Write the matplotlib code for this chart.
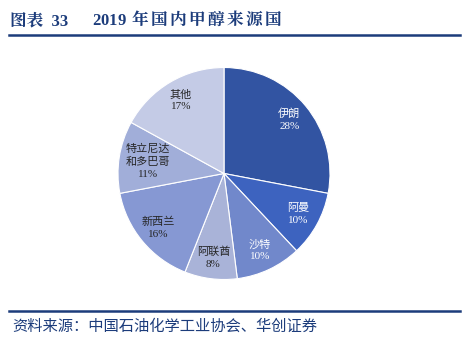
import numpy as np
import matplotlib
matplotlib.use('Agg')
import matplotlib.pyplot as plt

plt.rcParams['font.family'] = ['Liberation Serif', 'Noto Sans CJK SC']

names = ['伊朗', '阿曼', '沙特', '阿联酋', '新西兰', '特立尼达\n和多巴哥', '其他']
shares = [28, 10, 10, 8, 16, 11, 17]
colors = ['#3254a2', '#3d63bf', '#7188cb', '#a9b3d8', '#8698d3', '#a1aed9', '#c4cbe6']
text_colors = ['white', 'white', 'white', '#262626', '#262626', '#262626', '#262626']

W, H = 469, 338
fig = plt.figure(figsize=(W / 100, H / 100), dpi=100)

# header
navy = '#1c3c7b'
head_font = ['Liberation Serif', 'Noto Serif CJK SC', 'Noto Sans CJK SC']
fig.text(10 / W, 1 - 21 / H, '图表  33', fontsize=12, fontweight='bold',
         color=navy, va='center', ha='left', family=head_font)
# title characters spread out a little
title_x = 92
for ch in '2019 年国内甲醇来源国':
    t = fig.text(title_x / W, 1 - 21 / H, ch, fontsize=12, fontweight='bold',
                 color=navy, va='center', ha='left', family=head_font)
    if ch.isdigit():
        title_x += 8.4
    elif ch == ' ':
        title_x += 6
    else:
        title_x += 19
fig.add_artist(plt.Line2D([9 / W, 460 / W], [1 - 34.5 / H, 1 - 34.5 / H],
                          color=navy, lw=1.8, transform=fig.transFigure))
fig.add_artist(plt.Line2D([9 / W, 460 / W], [1 - 311 / H, 1 - 311 / H],
                          color=navy, lw=1.8, transform=fig.transFigure))
fig.text(12 / W, 1 - 326 / H, '资料来源：中国石油化学工业协会、华创证券', fontsize=11,
         color=navy, va='center', ha='left', style='italic',
         family=['Noto Sans CJK SC'])

# pie
cx, cy, r = 224, 173.5, 106
ax = fig.add_axes([(cx - r) / W, 1 - (cy + r) / H, 2 * r / W, 2 * r / H])
wedges, _ = ax.pie(shares, colors=colors, startangle=90, counterclock=False,
                   wedgeprops=dict(edgecolor='white', linewidth=0.8))
for w, name, val, tc in zip(wedges, names, shares, text_colors):
    ang = np.deg2rad((w.theta1 + w.theta2) / 2)
    d = 0.8 if val != 11 else 0.73
    ax.text(d * np.cos(ang), d * np.sin(ang), f'{name}\n{val}%', ha='center',
            va='center', fontsize=8, color=tc, linespacing=1.4)
ax.set_xlim(-1, 1)
ax.set_ylim(-1, 1)
ax.axis('off')

fig.savefig('out.png', dpi=100)
